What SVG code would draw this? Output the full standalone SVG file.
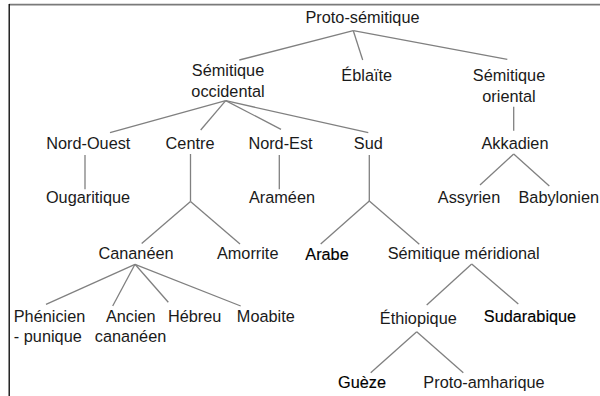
<svg xmlns="http://www.w3.org/2000/svg" width="600" height="396" viewBox="0 0 600 396">
<style>
text{font-family:"Liberation Sans",Arial,sans-serif;font-size:16.3px;fill:#1a1a1a;text-anchor:middle}
.dk{fill:#000;stroke:#000;stroke-width:0.15}
.st{text-anchor:start}
#connectors line{stroke:#808080;stroke-width:1.3;fill:none}
</style>
<rect x="0" y="0" width="600" height="396" fill="#fff"/>
<line x1="9" y1="4.6" x2="600" y2="4.6" stroke="#7a7a7a" stroke-width="1.6"/>
<line x1="9.2" y1="4" x2="9.2" y2="396" stroke="#000" stroke-width="1.3"/>
<g id="connectors">
<line x1="353.3" y1="30.7" x2="239.3" y2="60"/>
<line x1="353.3" y1="30.7" x2="362.7" y2="60"/>
<line x1="353.3" y1="30.7" x2="507.3" y2="59.3"/>
<line x1="225.7" y1="100.7" x2="110" y2="132.7"/>
<line x1="225.7" y1="100.7" x2="200.7" y2="130"/>
<line x1="225.7" y1="100.7" x2="281" y2="129.3"/>
<line x1="225.7" y1="100.7" x2="368.3" y2="132.7"/>
<line x1="85" y1="155" x2="85" y2="189.3"/>
<line x1="279.3" y1="155" x2="279.3" y2="189.3"/>
<line x1="190.5" y1="154" x2="190.5" y2="201.5"/>
<line x1="190.5" y1="201.5" x2="141.7" y2="243.5"/>
<line x1="190.5" y1="201.5" x2="240" y2="244"/>
<line x1="369.3" y1="155" x2="369.3" y2="201"/>
<line x1="369.3" y1="201" x2="320.7" y2="244"/>
<line x1="369.3" y1="201" x2="419.3" y2="244.3"/>
<line x1="513.7" y1="106.7" x2="513.7" y2="130.7"/>
<line x1="513.7" y1="154" x2="480" y2="185"/>
<line x1="513.7" y1="154" x2="549.3" y2="186"/>
<line x1="135" y1="264.3" x2="46" y2="304.3"/>
<line x1="135" y1="264.3" x2="112.7" y2="306"/>
<line x1="135" y1="264.3" x2="168.3" y2="302.3"/>
<line x1="135" y1="264.3" x2="240.7" y2="306"/>
<line x1="471.7" y1="264" x2="426.7" y2="305"/>
<line x1="471.7" y1="264" x2="518.3" y2="304"/>
<line x1="416.7" y1="331.7" x2="370.7" y2="372.7"/>
<line x1="416.7" y1="331.7" x2="463.3" y2="372.7"/>
</g>
<g id="n-proto"><text x="362.5" y="23">Proto-sémitique</text></g>
<g id="n-occidental"><text x="228" y="76">Sémitique</text><text x="228" y="97.3">occidental</text></g>
<g id="n-eblaite"><text x="366.7" y="81.3">Éblaïte</text></g>
<g id="n-oriental"><text x="509" y="81">Sémitique</text><text x="509" y="101.7">oriental</text></g>
<g id="n-nordouest"><text x="88.3" y="148.5">Nord-Ouest</text></g>
<g id="n-centre"><text x="190" y="148.5">Centre</text></g>
<g id="n-nordest"><text x="280.5" y="148.5">Nord-Est</text></g>
<g id="n-sud"><text x="368.3" y="148.5">Sud</text></g>
<g id="n-akkadien"><text x="515" y="148.5">Akkadien</text></g>
<g id="n-ougaritique"><text x="88" y="202.7">Ougaritique</text></g>
<g id="n-arameen"><text x="282" y="202.7">Araméen</text></g>
<g id="n-assyrien"><text x="469" y="202.7">Assyrien</text></g>
<g id="n-babylonien"><text class="st" x="518.5" y="202.7">Babylonien</text></g>
<g id="n-cananeen"><text x="136" y="259.3">Cananéen</text></g>
<g id="n-amorrite"><text x="247.7" y="259.3">Amorrite</text></g>
<g id="n-arabe"><text class="dk" x="327" y="259.5">Arabe</text></g>
<g id="n-meridional"><text x="463.7" y="259.3">Sémitique méridional</text></g>
<g id="n-phenicien"><text x="49.5" y="322.3">Phénicien</text><text x="47.8" y="341.7">- punique</text></g>
<g id="n-ancien"><text x="130.8" y="322.3">Ancien</text><text x="130.5" y="341.7">cananéen</text></g>
<g id="n-hebreu"><text x="194.7" y="322.3">Hébreu</text></g>
<g id="n-moabite"><text x="265.8" y="322.3">Moabite</text></g>
<g id="n-ethiopique"><text x="418.3" y="324">Éthiopique</text></g>
<g id="n-sudarabique"><text class="dk" x="530" y="321.7">Sudarabique</text></g>
<g id="n-gueze"><text class="dk" x="362" y="388">Guèze</text></g>
<g id="n-protoamharique"><text x="484" y="388">Proto-amharique</text></g>
</svg>
